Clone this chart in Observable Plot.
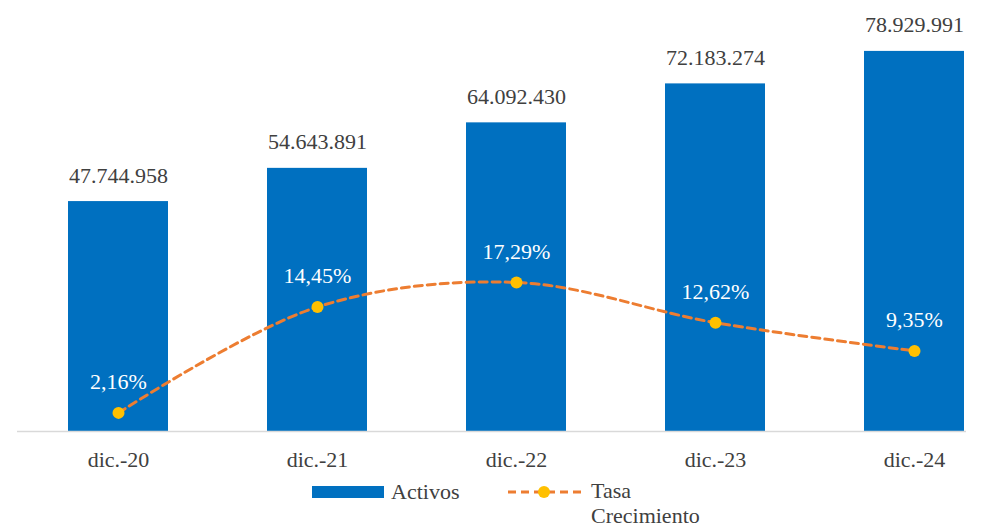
<!DOCTYPE html>
<html>
<head>
<meta charset="utf-8">
<script src="https://cdn.jsdelivr.net/npm/d3@7"></script>
<script src="https://cdn.jsdelivr.net/npm/@observablehq/plot@0.6"></script>
<style>
  body { margin: 0; background: #fff; font-family: "Liberation Serif", "DejaVu Serif", serif; }
  #wrap { position: relative; width: 982px; height: 529px; overflow: hidden; }
  #chart svg { display: block; }
  #legend { position: absolute; left: 0; top: 475px; width: 982px; height: 54px; color: #404040; font-size: 22px; font-family: "Liberation Serif", "DejaVu Serif", serif; }
  #legend .item { position: absolute; }
</style>
</head>
<body>
<div id="wrap">
  <div id="chart"></div>
  <div id="legend"></div>
</div>
<script>
const categories = ["dic.-20", "dic.-21", "dic.-22", "dic.-23", "dic.-24"];
const activos = [47744958, 54643891, 64092430, 72183274, 78929991];
const tasa = [2.16, 14.45, 17.29, 12.62, 9.35];
const activosLabels = ["47.744.958", "54.643.891", "64.092.430", "72.183.274", "78.929.991"];
const tasaLabels = ["2,16%", "14,45%", "17,29%", "12,62%", "9,35%"];
const seriesNames = ["Activos", "Tasa", "Crecimiento"];

const yMax = 89.5e6;     // primary axis max
const y2Max = 50;        // secondary axis max (%)
const k = yMax / y2Max;

const data = categories.map((c, i) => ({
  cat: c, activos: activos[i], tasa: tasa[i],
  aLabel: activosLabels[i], tLabel: tasaLabels[i]
}));

const fontFamily = "Liberation Serif, DejaVu Serif, serif";

const chart = Plot.plot({
  width: 982,
  height: 475,
  marginTop: 0,
  marginBottom: 44,
  marginLeft: 67,
  marginRight: 18,
  style: { fontFamily, fontSize: "22px", background: "transparent" },
  x: { domain: categories, paddingInner: 0.5, paddingOuter: 0, label: null },
  y: { domain: [0, yMax], axis: null },
  marks: [
    Plot.barY(data, { x: "cat", y: "activos", fill: "#0070C0" }),
    Plot.ruleY([0], { stroke: "#D9D9D9", strokeWidth: 1.5, insetLeft: -50, insetRight: -2 }),
    Plot.axisX({ tickSize: 0, tickPadding: 20, fontSize: 22, fill: "#404040", label: null, fontFamily }),
    Plot.text(data, { x: "cat", y: "activos", text: "aLabel", dy: -26, fill: "#404040", fontSize: 22, lineAnchor: "middle", fontFamily }),
    Plot.line(data, { x: "cat", y: d => d.tasa * k, stroke: "#ED7D31", strokeWidth: 3, strokeDasharray: "8,5", curve: "catmull-rom" }),
    Plot.dot(data, { x: "cat", y: d => d.tasa * k, r: 6, fill: "#FFC000", stroke: "none" }),
    Plot.text(data, { x: "cat", y: d => d.tasa * k, text: "tLabel", dy: -31, fill: "#ffffff", fontSize: 22, lineAnchor: "middle", fontFamily })
  ]
});
document.getElementById("chart").appendChild(chart);

// Legend
const legend = document.getElementById("legend");
legend.innerHTML = `
  <svg class="item" style="left:312px; top:11px" width="72" height="12"><rect x="0" y="0" width="72" height="12" fill="#0070C0"/></svg>
  <div class="item" style="left:391px; top:2px; line-height:30px">${seriesNames[0]}</div>
  <svg class="item" style="left:508px; top:7px" width="76" height="20">
    <line x1="0" y1="10" x2="76" y2="10" stroke="#ED7D31" stroke-width="3" stroke-dasharray="8,5"/>
    <circle cx="36" cy="10" r="6" fill="#FFC000"/>
  </svg>
  <div class="item" style="left:591px; top:3px; line-height:25px; width:160px">${seriesNames[1]}<br>${seriesNames[2]}</div>
`;
</script>
</body>
</html>
